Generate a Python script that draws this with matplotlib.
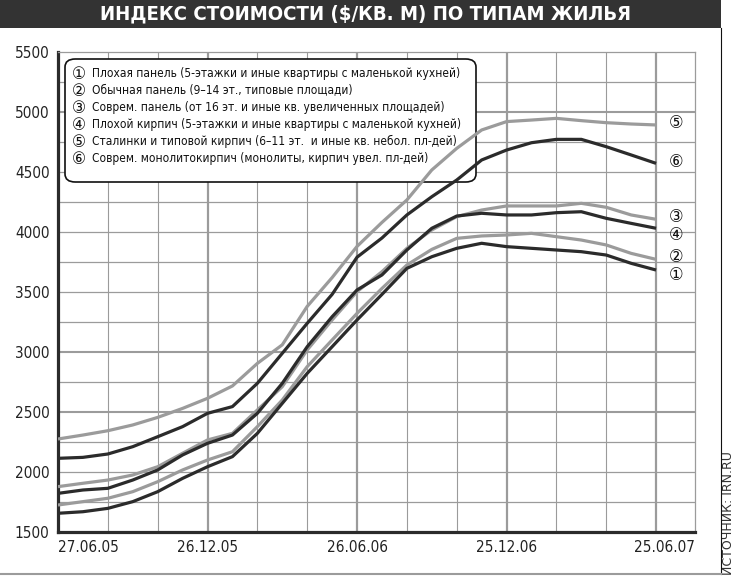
import matplotlib
matplotlib.use("Agg")
import matplotlib.pyplot as plt
from matplotlib import font_manager as fm
from matplotlib.patches import Rectangle, FancyBboxPatch

# months since 27.06.05 (one point per month)
months = list(range(25))
x_ticks = [0, 6, 12, 18]
x_labels = ["27.06.05", "26.12.05", "26.06.06", "25.12.06", "25.06.07"]
y_ticks = [1500, 2000, 2500, 3000, 3500, 4000, 4500, 5000, 5500]

# price index, $/sq.m
s1 = [1656, 1669, 1697, 1753, 1836, 1947, 2044, 2128, 2322, 2572, 2822, 3044, 3267,
      3480, 3697, 3794, 3864, 3906, 3878, 3864, 3850, 3836, 3808, 3739, 3683]
s2 = [1725, 1753, 1781, 1836, 1919, 2017, 2100, 2169, 2378, 2600, 2878, 3100, 3322,
      3530, 3725, 3855, 3947, 3967, 3975, 3989, 3961, 3933, 3892, 3822, 3772]
s3 = [1878, 1906, 1933, 1975, 2044, 2156, 2267, 2322, 2517, 2711, 3017, 3267, 3503,
      3669, 3864, 4017, 4128, 4183, 4217, 4217, 4217, 4239, 4206, 4142, 4106]
s4 = [1822, 1850, 1864, 1933, 2017, 2142, 2239, 2308, 2489, 2739, 3044, 3294, 3517,
      3642, 3850, 4031, 4133, 4156, 4142, 4142, 4161, 4169, 4114, 4072, 4031]
s5 = [2275, 2308, 2344, 2392, 2455, 2530, 2614, 2717, 2905, 3060, 3380, 3620, 3880,
      4080, 4267, 4517, 4697, 4850, 4920, 4933, 4947, 4928, 4911, 4900, 4892]
s6 = [2114, 2122, 2150, 2211, 2294, 2378, 2489, 2545, 2739, 2989, 3239, 3480, 3790,
      3950, 4142, 4294, 4433, 4600, 4683, 4744, 4772, 4772, 4711, 4642, 4572]

series = [s1, s2, s3, s4, s5, s6]
marks = ["①", "②", "③", "④", "⑤", "⑥"]
names = [
    "Плохая панель (5-этажки и иные квартиры с маленькой кухней)",
    "Обычная панель (9–14 эт., типовые площади)",
    "Соврем. панель (от 16 эт. и иные кв. увеличенных площадей)",
    "Плохой кирпич (5-этажки и иные квартиры с маленькой кухней)",
    "Сталинки и типовой кирпич (6–11 эт.  и иные кв. небол. пл-дей)",
    "Соврем. монолитокирпич (монолиты, кирпич увел. пл-дей)",
]
# where the end marks sit on the right
end_label_y = [3642, 3792, 4125, 3975, 4908, 4583]

DARK = "#2b2b2b"
GRAY = "#9b9b9b"
colors = [DARK, GRAY, GRAY, DARK, GRAY, DARK]


def pick_family():
    have = {(f.name, f.stretch) for f in fm.fontManager.ttflist}
    for fam, st in [("DejaVu Sans", "condensed"), ("Liberation Sans Narrow", None),
                    ("Roboto Condensed", None)]:
        for n, s in have:
            if n == fam and (st is None or s == st):
                return fam, (st or "normal")
    return "DejaVu Sans", "normal"


FAM, STRETCH = pick_family()
plt.rcParams["font.family"] = [FAM, "DejaVu Sans", "Noto Sans CJK SC"]
plt.rcParams["font.stretch"] = STRETCH
CIRC = ["DejaVu Sans", "Noto Sans CJK SC"]

W, H = 734, 577
fig = plt.figure(figsize=(W / 100, H / 100), dpi=100)
ax = fig.add_axes([58 / W, 45 / H, 637 / W, 480 / H])

xmax = 637 / 24.92
ax.set_xlim(0, xmax)
ax.set_ylim(1500, 5500)

# grid
for m in range(2, 25, 2):
    ax.axvline(m, color=GRAY, lw=1.6 if m % 6 == 0 else 0.8, zorder=1)
for v in range(1750, 5500, 250):
    ax.axhline(v, color=GRAY, lw=1.5 if v in (2500, 3000, 5000) else 0.9, zorder=1)

order = [1, 2, 4, 0, 3, 5]
for i in order:
    ax.plot(months, series[i], color=colors[i], lw=2.3, zorder=3,
            solid_joinstyle="round", solid_capstyle="butt")

for i in range(6):
    ax.text(24.8, end_label_y[i], marks[i], fontsize=13, ha="center", va="center",
            color="#111111", family=CIRC, clip_on=False)

ax.set_xticks(x_ticks + [xmax])
ax.set_xticklabels(x_labels, fontsize=11, color="#222222")
tl = ax.get_xticklabels()
tl[0].set_ha("left")
tl[-1].set_ha("right")
ax.set_yticks(y_ticks)
ax.set_yticklabels([str(v) for v in y_ticks], fontsize=11, color="#222222")
ax.tick_params(length=0, pad=6)

for s in ("left", "bottom"):
    ax.spines[s].set_color(DARK)
    ax.spines[s].set_linewidth(2.3)
for s in ("top", "right"):
    ax.spines[s].set_color(GRAY)
    ax.spines[s].set_linewidth(0.9)

# legend box: covers the grid, the curves run over it
bx0, by0, bx1, by1 = 65, 59, 476, 182
box = FancyBboxPatch((bx0 / W, 1 - by1 / H), (bx1 - bx0) / W, (by1 - by0) / H,
                     boxstyle="round,pad=0,rounding_size=0.014",
                     transform=fig.transFigure, facecolor="white",
                     edgecolor="#111111", lw=1.2, zorder=2, clip_on=False)
ax.add_patch(box)
for i in range(6):
    yy = 1 - (74 + 16.9 * i) / H
    ax.text(79 / W, yy, marks[i], fontsize=12.5, ha="center", va="center",
            color="#111111", family=CIRC, zorder=4, transform=fig.transFigure)
    ax.text(92 / W, yy, names[i], fontsize=8.6, ha="left", va="center",
            color="#111111", zorder=4, transform=fig.transFigure)

# title bar
fig.add_artist(Rectangle((0, 1 - 28 / H), 721 / W, 28 / H, transform=fig.transFigure,
                         facecolor="#333333", edgecolor="none"))
fig.text(365 / W, 1 - 14 / H, "ИНДЕКС СТОИМОСТИ ($/КВ. М) ПО ТИПАМ ЖИЛЬЯ",
         fontsize=14.6, fontweight="bold", color="white", ha="center", va="center")

# frame lines
fig.add_artist(plt.Line2D([721 / W, 721 / W], [1 - 28 / H, 1 - 574 / H],
                          transform=fig.transFigure, color="#111111", lw=0.8))
fig.add_artist(plt.Line2D([0, 721 / W], [1 - 574 / H, 1 - 574 / H],
                          transform=fig.transFigure, color=GRAY, lw=1.5))
fig.text(728 / W, 2 / H, "ИСТОЧНИК: IRN.RU", rotation=90, fontsize=9,
         ha="center", va="bottom", color="#333333", family="DejaVu Sans",
         stretch="normal")

fig.savefig("out.png", dpi=100)
